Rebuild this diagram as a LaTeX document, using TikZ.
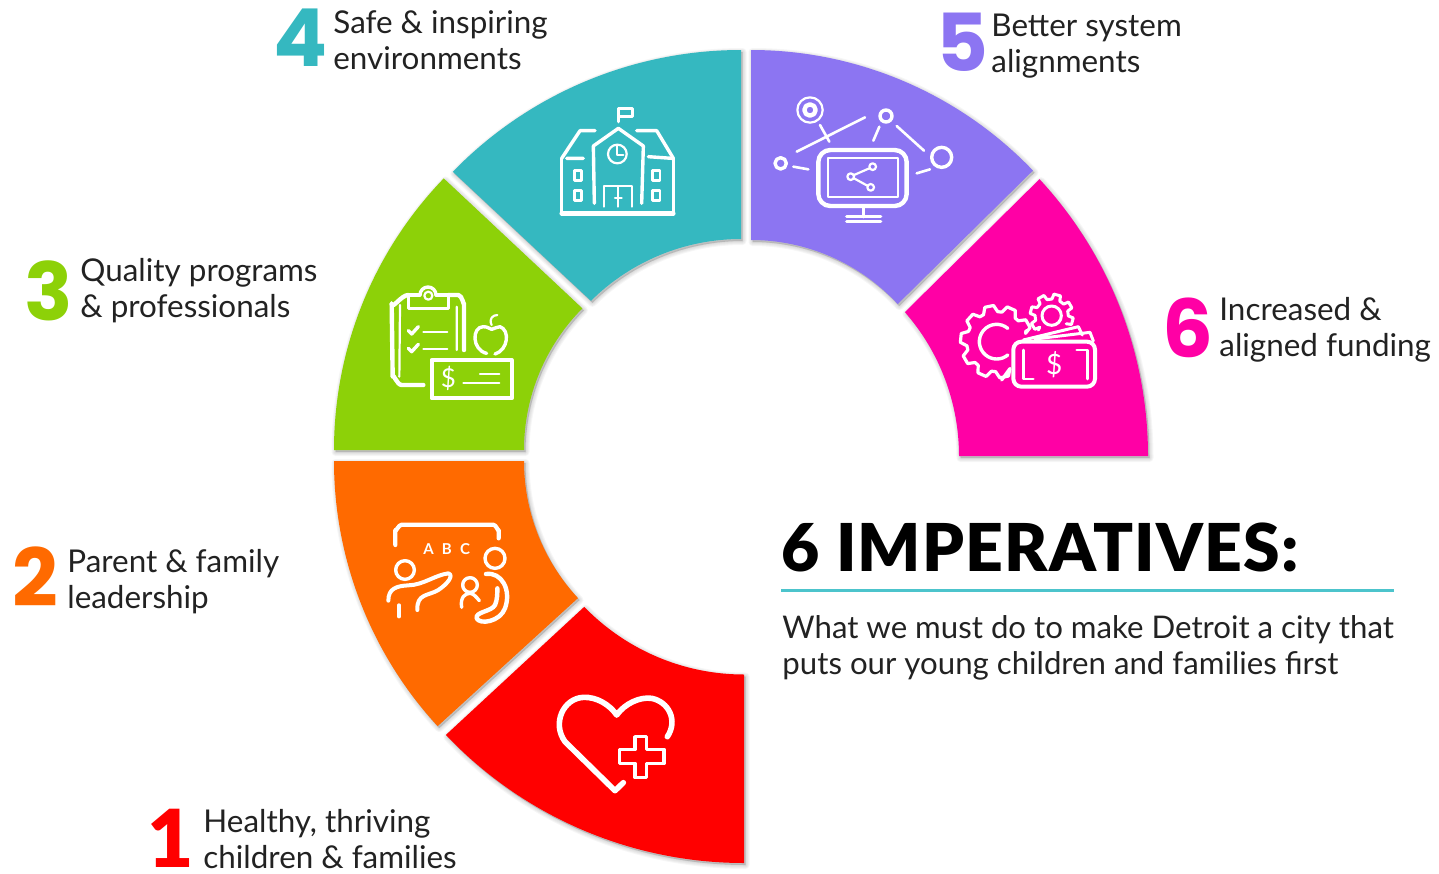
\documentclass[tikz,border=0pt]{standalone}
\usepackage{fontspec}
\setmainfont{Lato}
\newfontfamily\numfont{Poppins}[BoldFont=* Bold]
\newfontfamily\titlefont{Lato Black}[LetterSpace=1.9]
\newfontfamily\onefont{Lato Black}
\usetikzlibrary{calc}
\definecolor{cteal}{HTML}{35B8C0}
\definecolor{cgreen}{HTML}{8DD108}
\definecolor{corange}{HTML}{FF6A00}
\definecolor{cred}{HTML}{FF0000}
\definecolor{cpurple}{HTML}{8C75F2}
\definecolor{cmag}{HTML}{FF00A5}
\definecolor{crule}{HTML}{4CC4CC}
\definecolor{ctext}{HTML}{222222}
\newcommand\ringseg[8]{([shift={(#1,#2)}]#5:#3) arc[start angle=#5,end angle=#6,radius=#3] -- ([shift={(#1,#2)}]#8:#4) arc[start angle=#8,end angle=#7,radius=#4] -- cycle}
\newcommand\allsegs[1]{%
 \foreach \cx/\cy/\Ro/\Ri/\aa/\ab/\ba/\bb/\col in {
  741/452/402/213/-135.8/-90/-134.8/-90/cteal,
  725/450/391/201/180/224/180/224.8/cgreen,
  725/461/391/201/137.3/180/137/180/corange,
  744/452/411/222.5/90/136.5/90/135.9/cred,
  751/440/390/200/-90/-43.7/-90/-42.8/cpurple,
  740.5/456/407.5/218.5/-42.8/0/-41.2/0/cmag}{#1}}
\tikzset{
 x=0.5pt,y=-0.5pt,
 lab/.style={inner sep=0pt,anchor=base west,align=left,font=\fontsize{15.7}{18}\selectfont,text=ctext},
 num/.style={inner sep=0pt,anchor=base,font=\numfont\bfseries\fontsize{40}{40}\selectfont},
 ico/.style={draw=white,line width=1.7pt,line cap=round,line join=round},
 icoth/.style={ico,line width=1.1pt},
 zoom/.style={x=0.16667pt,y=-0.16667pt},
}
\begin{document}
\begin{tikzpicture}
\useasboundingbox (0,0) rectangle (1439,873);
% shadows
\allsegs{
 \foreach \w in {8,6,4,2,0.1}{
  \path[fill=black,draw=black,line width=\w*0.5pt,opacity=0.035,line join=round,shift={(1.5,2)}] \ringseg{\cx}{\cy}{\Ro}{\Ri}{\aa}{\ab}{\ba}{\bb};
 }
}
\allsegs{\fill[\col] \ringseg{\cx}{\cy}{\Ro}{\Ri}{\aa}{\ab}{\ba}{\bb};}

% school icon
\begin{scope}[shift={(340,60)},zoom]
 \draw[ico] (835,185)--(835,145)--(878,145)--(878,170)--(840,170);
 \draw[ico] (665,295)--(720,212)--(765,212) (1000,295)--(950,212)--(890,212);
 \draw[ico] (665,295)--(665,460) (1000,295)--(1000,460);
 \draw[ico,line width=2.2pt] (665,460)--(1000,460);
 \draw[ico] (680,295)--(730,295) (925,290)--(995,295);
 \draw[ico] (763,430)--(760,258)--(835,205)--(910,258)--(905,430);
 \draw[icoth] (832,282) circle[radius=28];
 \draw[icoth] (832,258)--(832,285)--(850,285);
 \draw[icoth] (792,440)--(792,378)--(876,378)--(876,440) (834,380)--(834,440) (825,415)--(845,415);
 \draw[icoth,line width=1.3pt] (703,332) rectangle (725,362) (703,392) rectangle (725,422) (937,332) rectangle (960,362) (937,392) rectangle (960,422);
 % clipboard
 \draw[ico,line width=2.2pt] (250,975)--(185,975) to[out=180,in=90] (158,950)--(155,730) to[out=-90,in=180] (205,705) (325,705)--(355,705) to[out=0,in=-90] (372,730)--(372,870);
 \draw[icoth] (180,735)--(178,950) (350,740)--(350,870);
 \draw[ico] (205,705)--(205,745)--(325,745)--(325,705)--(288,705) (240,705)--(205,705);
 \draw[ico] (240,705) arc[start angle=180,end angle=360,radius=24];
 \draw[icoth] (265,707) circle[radius=12];
 \draw[ico] (205,812)--(215,822)--(235,800) (205,865)--(215,875)--(235,853);
 \draw[icoth] (250,817)--(322,817) (250,868)--(322,868);
 \draw[ico,line width=2pt] (275,900) rectangle (515,1015);
 \node[inner sep=0pt,text=white,font=\fontsize{13}{13}\selectfont] (chk) at (325,955) {\$};
 \draw[icoth] (370,968)--(478,968) (420,943)--(478,943);
 \draw[ico] (440,880) .. controls (395,870) and (395,800) .. (430,800) .. controls (445,800) and (450,808) .. (455,808) .. controls (465,808) and (470,798) .. (480,800) .. controls (510,810) and (505,870) .. (465,882);
 \draw[icoth] (455,795) .. controls (445,775) and (460,765) .. (472,765);
\end{scope}

% monitor icon
\begin{scope}[shift={(750,60)},zoom]
 \draw[ico,line width=2.2pt,rounded corners=6pt] (205,270) rectangle (470,438);
 \draw[icoth] (235,295) rectangle (445,410);
 \draw[icoth] (302,350) circle[radius=10] (368,320) circle[radius=10] (362,382) circle[radius=10];
 \draw[icoth] (312,345)--(358,325) (312,355)--(352,377);
 \draw[ico] (340,440)--(340,470) (290,485)--(392,485);
 \draw[ico] (290,470)--(392,470);
 \draw[icoth] (180,150) circle[radius=38];
 \draw[ico,line width=2.2pt] (180,150) circle[radius=17];
 \draw[ico] (408,168) circle[radius=18] (92,310) circle[radius=17] (575,292) circle[radius=30];
 \draw[icoth,line width=1.3pt] (140,275)--(345,172) (210,195)--(238,245) (388,200)--(370,242) (440,198)--(522,272) (130,320)--(175,328) (500,340)--(540,328);
\end{scope}

% gears and money icon
\begin{scope}[shift={(955,285)},zoom]
 \draw[ico,line width=1.6pt] (213,137)
  \foreach \a in {-30,-66,...,-210,-246,-282}{ -- ([shift={(125,170)}]\a+14:90) -- ([shift={(125,170)}]\a+7:109) -- ([shift={(125,170)}]\a-7:109) -- ([shift={(125,170)}]\a-14:90)};
 \draw[ico,line width=1.6pt] ([shift={(125,170)}]-282-14:90) -- (140,285);
 \draw[ico,line width=1.7pt] ([shift={(125,170)}]-50:52) arc[start angle=-50,end angle=-310,radius=52];
 \draw[ico,line width=1.5pt] (250,135)
  \foreach \a in {150,195,...,375}{ -- ([shift={(290,92)}]\a-14:50) -- ([shift={(290,92)}]\a-9:65) -- ([shift={(290,92)}]\a+9:65) -- ([shift={(290,92)}]\a+14:50)};
 \draw[ico,line width=1.5pt] (290,92) circle[radius=29];
 \draw[ico,line width=1.5pt] (205,165)--(370,125)--(382,150) (240,162)--(405,142)--(415,168);
 \draw[ico,line width=2pt,rounded corners=4pt] (175,170) rectangle (420,305);
 \draw[icoth,line width=1.3pt] (235,282)--(205,282)--(205,195) (365,195)--(397,195)--(397,282);
 \node[inner sep=0pt,text=white,font=\fontsize{14}{14}\selectfont] (cash) at (298,240) {\$};
\end{scope}

% teaching icon
\begin{scope}[shift={(380,510)},zoom]
 \draw[ico,line width=2.1pt] (46,105)--(46,60) to[out=-90,in=180] (65,44)--(340,44) to[out=0,in=-90] (356,60)--(356,85);
 \node[inner sep=0pt,text=white,font=\bfseries\fontsize{7.5}{8}\selectfont] (abc) at (200,118) {A\hspace{0.55em}B\hspace{0.55em}C};
 \draw[ico] (75,180) circle[radius=28];
 \draw[ico,line width=2pt] (25,272) .. controls (25,235) and (50,228) .. (85,226) .. controls (130,225) and (165,195) .. (205,190) .. controls (222,195) and (205,220) .. (175,240) .. controls (145,258) and (110,250) .. (112,300);
 \draw[ico] (57,285)--(57,320);
 \draw[ico] (270,225) circle[radius=22];
 \draw[ico] (245,292) .. controls (240,262) and (255,250) .. (270,250) .. controls (280,250) and (290,262) .. (298,272);
 \draw[ico] (345,145) circle[radius=30];
 \draw[ico,line width=2.2pt] (318,192) .. controls (365,185) and (395,240) .. (375,295) .. controls (360,335) and (300,345) .. (290,325) .. controls (285,305) and (335,305) .. (345,285) .. controls (352,270) and (352,250) .. (352,235);
\end{scope}

% heart icon
\begin{scope}[shift={(340,470)},zoom]
 \draw[ico,line width=2.8pt] (850,938)--(825,962)--(675,815) .. controls (635,760) and (670,685) .. (730,682) .. controls (770,680) and (810,705) .. (830,735) .. controls (855,700) and (900,680) .. (935,685) .. controls (985,695) and (1015,750) .. (982,800);
 \draw[ico,line width=1.8pt] (885,800)--(920,800)--(920,838)--(972,838)--(972,880)--(920,880)--(920,922)--(885,922)--(885,880)--(838,880)--(838,838)--(885,838)--cycle;
\end{scope}

% numbers
\node[num,text=cteal] (n4) at (301,66) {4};
\node[num,text=cpurple] (n5) at (962,71) {5};
\node[num,text=cmag] (n6) at (1188,357) {6};
\node[num,text=cgreen] (n3) at (49,320) {3};
\node[num,text=corange] (n2) at (35,606) {2};
\node[num,text=cred,font=\onefont\fontsize{40}{40}\selectfont] (n1) at (171,867) {1};
% labels
\node[lab] (l4) at (333,69) {Safe \& inspiring\\environments};
\node[lab] (l5) at (991,72) {Better system\\alignments};
\node[lab] (l6) at (1219,356) {Increased \&\\aligned funding};
\node[lab] (l3) at (80,317) {Quality programs\\\& professionals};
\node[lab] (l2) at (67,608) {Parent \& family\\leadership};
\node[lab] (l1) at (203,868) {Healthy, thriving\\children \& families};
% title
\node[inner sep=0pt,anchor=base west,font=\titlefont\fontsize{33}{33}\selectfont,text=black] (title) at (781,571) {6 IMPERATIVES:};
\coordinate (ra) at (781,590);
\coordinate (rb) at (1394,590);
\draw[crule,line width=1.5pt] (ra)--(rb);
\node[lab,font=\fontsize{15.6}{18}\selectfont] (sub) at (782,674) {What we must do to make Detroit a city that\\puts our young children and families first};
\end{tikzpicture}
\end{document}
